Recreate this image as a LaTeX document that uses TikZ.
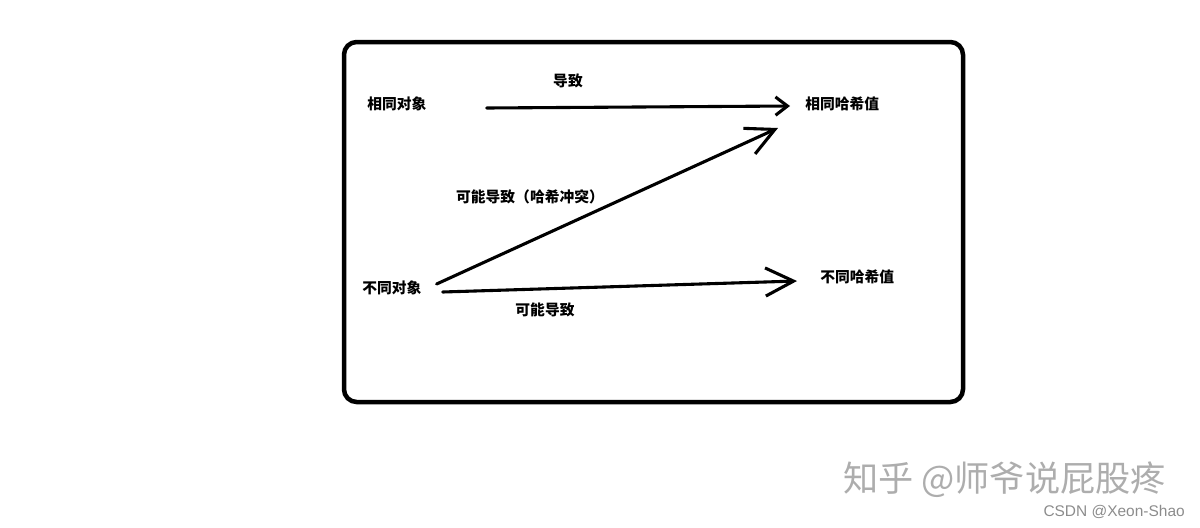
\documentclass[tikz,border=0pt]{standalone}
\usepackage{fontspec}
\setmainfont{Liberation Sans}
\newfontfamily\cjk{Noto Sans CJK SC}
\usetikzlibrary{arrows.meta,calc}

\begin{document}
\begin{tikzpicture}[
  x=0.025cm, y=-0.025cm,
  every node/.style={inner sep=0pt},
  lbl/.style={font=\cjk\bfseries\fontsize{10.5}{12}\selectfont},
  arr/.style={line width=2.2pt, line cap=round,
              -{Straight Barb[length=8.5pt,width=13pt]}},
  bigarr/.style={line width=2.2pt, line cap=round,
              -{Straight Barb[length=20pt,width=20pt]}}
]
\useasboundingbox (0,0) rectangle (1200,527);
\draw[line width=3.2pt, rounded corners=9pt] (344,42) rectangle (963,402);

\node[lbl, anchor=west] (same) at (367,104) {相同对象};
\node[lbl, anchor=west] (samehash) at (805,104) {相同哈希值};
\node[lbl, anchor=west] (diff) at (362,288) {不同对象};
\node[lbl, anchor=west] (diffhash) at (820,277) {不同哈希值};

\node[lbl] (lcause) at (568,81) {导致};
\node[lbl] (lcollide) at (530,197) {可能导致（哈希冲突）};
\node[lbl] (lmaybe) at (545,310) {可能导致};

\draw[arr] ($(same.east)+(60,4)$) -- ($(samehash.west)+(-15,2)$);
\draw[bigarr] ($(diff.east)+(15,-4)$) -- ($(samehash.west)+(-27,24)$);
\draw[bigarr] ($(diff.east)+(21,4)$) -- ($(diffhash.west)+(-23,4)$);

\node[font=\cjk\fontsize{25}{30}\selectfont, text=black!32, anchor=west]
  (zhihu) at (843,480) {知乎 @师爷说屁股疼};
\node[font=\fontsize{11}{13}\selectfont, text=black!45, anchor=east]
  (csdn) at (1185,512) {CSDN @Xeon-Shao};
\end{tikzpicture}
\end{document}
